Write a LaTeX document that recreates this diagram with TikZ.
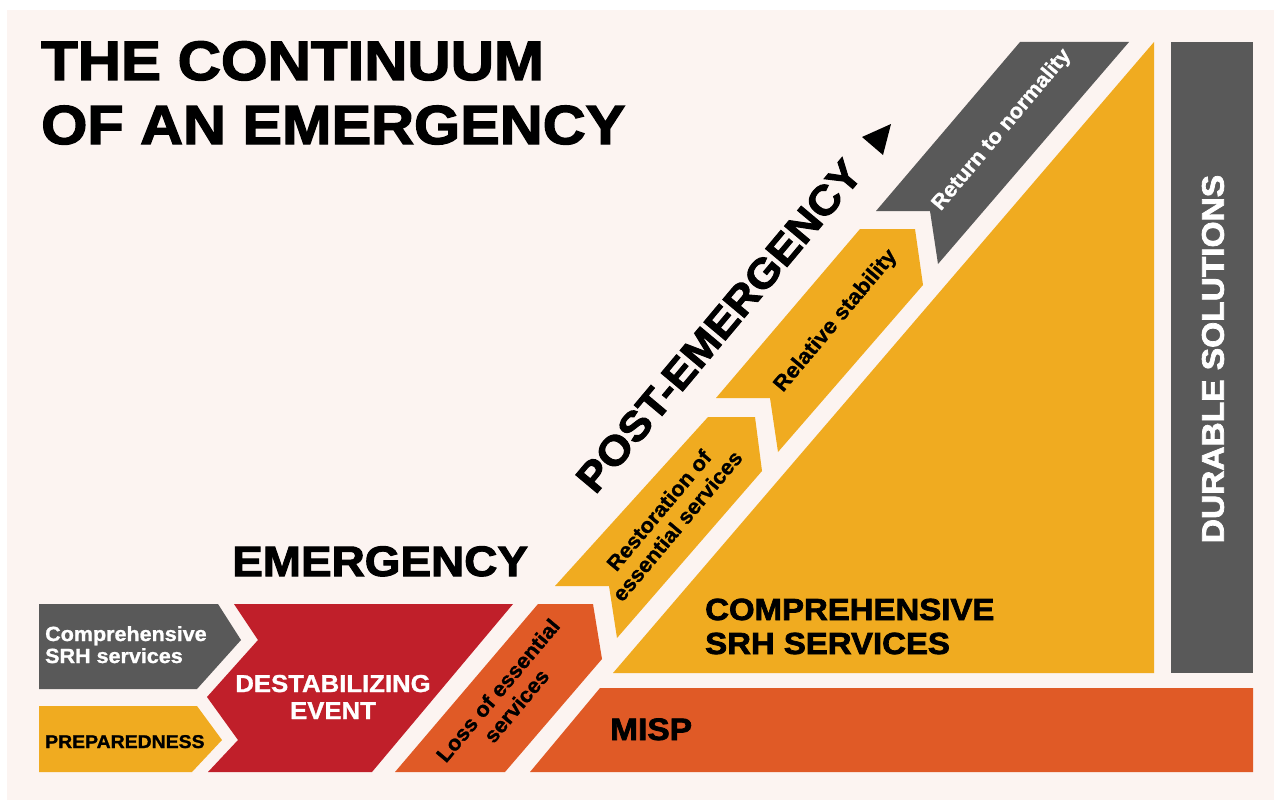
\documentclass[tikz,border=0pt]{standalone}
\usepackage{fontspec}
\setmainfont{Liberation Sans}
\newfontfamily\hvy{Liberation Sans Bold}[FakeStretch=1.08,FakeBold=2.4]
\newfontfamily\hvs{Liberation Sans Bold}[FakeStretch=1.05,FakeBold=1.2]
\definecolor{bgpink}{HTML}{FCF4F1}
\definecolor{cgray}{HTML}{595959}
\definecolor{cyel}{HTML}{F0AB20}
\definecolor{cred}{HTML}{C01F2A}
\definecolor{corg}{HTML}{E05A26}
\begin{document}
\begin{tikzpicture}[x=1pt,y=-1pt,
  head/.style={inner sep=0pt, font={\hvy\fontsize{#1}{#1}\selectfont}},
  small/.style={inner sep=0pt, align=center, font={\hvs\fontsize{#1}{24}\selectfont}},
  diag/.style={rotate=50}]
\useasboundingbox (0,0) rectangle (1274,800);
\fill[white] (0,0) rectangle (1274,800);
\fill[bgpink] (7,10) rectangle (1274,800);

% shapes
\fill[cgray] (39,604) -- (218,604) -- (241,640) -- (197,689) -- (39,689) -- cycle;
\fill[cyel] (39,706) -- (197,706) -- (222,740) -- (192,772) -- (39,772) -- cycle;
\fill[cred] (234,604) -- (513,604) -- (372,772) -- (208,772) -- (238,740) -- (207,697) -- (258,640) -- cycle;
\fill[corg] (395,772) -- (538,604) -- (593,604) -- (602,659) -- (505,772) -- cycle;
\fill[corg] (530,772) -- (600,688) -- (1253,688) -- (1253,772) -- cycle;
\fill[cyel] (555,586) -- (708,417) -- (755,417) -- (762,471) -- (617,638) -- (609,586) -- cycle;
\fill[cyel] (716,398) -- (860,229) -- (915,229) -- (923,285) -- (778,452) -- (770,398) -- cycle;
\fill[cgray] (876,211) -- (1020,42) -- (1129,42) -- (938,264) -- (930,211) -- cycle;
\fill[cyel] (613,673) -- (1154,42) -- (1154,673) -- cycle;
\fill[cgray] (1171,42) rectangle (1253,673);
\fill[black] (891,124) -- (862,137) -- (883,155) -- cycle;

% title
\node[head=55.5, anchor=base west] (t1) at (41,80) {THE CONTINUUM};
\node[head=55, anchor=base west] (t2) at (41,144) {OF AN EMERGENCY};
\node[head=42.5, anchor=base west] (em) at (232,576) {EMERGENCY};
\node[head=41, diag] (pe) at (719,326) {POST-EMERGENCY};
\node[head=30.5, anchor=base west] (cs1) at (705,620) {COMPREHENSIVE};
\node[head=30.5, anchor=base west] (cs2) at (705,654) {SRH SERVICES};
\node[head=31, anchor=base west] (misp) at (610,740) {MISP};
\node[head=31, rotate=90, text=white] (ds) at (1213,359) {DURABLE SOLUTIONS};

% small labels
\node[small=20.5, text=white, anchor=base west] (c1) at (45,641) {Comprehensive};
\node[small=20.5, text=white, anchor=base west] (c2) at (45,663) {SRH services};
\node[small=18.5, anchor=base west] (prep) at (45,748) {PREPAREDNESS};
\node[small=24.5, text=white, anchor=base] (d1) at (333,692) {DESTABILIZING};
\node[small=24.5, text=white, anchor=base] (d2) at (333,719) {EVENT};
\node[small=21, diag] (loss) at (507,698) {Loss of essential\\services};
\node[small=21, diag] (rest) at (668,518) {Restoration of\\essential services};
\node[small=21.5, diag] (rel) at (836,321) {Relative stability};
\node[small=21, diag, text=white] (ret) at (1002,130) {Return to normality};
\end{tikzpicture}
\end{document}
